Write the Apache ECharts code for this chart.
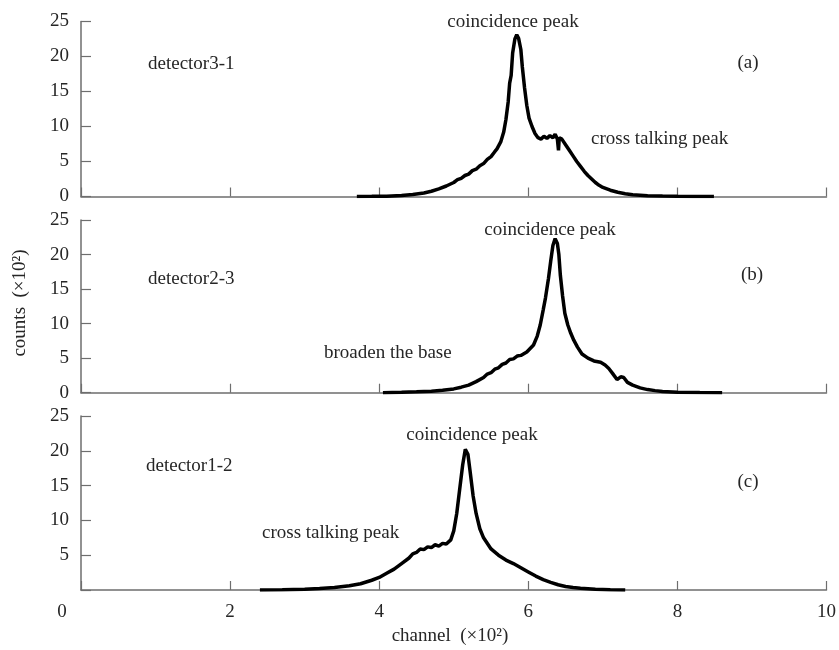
<!DOCTYPE html>
<html><head><meta charset="utf-8">
<script src="https://cdn.jsdelivr.net/npm/echarts@6/dist/echarts.min.js"></script>
<style>html,body{margin:0;padding:0;background:#fff}#c{width:839px;height:650px}</style>
</head><body><div id="c"></div>
<script>
// channel (x10^2), counts (x10^2)
const detector31 = [[3.70,0],[3.9,0.02],[4.1,0.05],[4.3,0.15],[4.45,0.3],[4.6,0.5],[4.7,0.75],[4.8,1.1],[4.9,1.5],[5.0,2.0],[5.05,2.4],[5.1,2.6],[5.15,3.0],[5.2,3.2],[5.25,3.7],[5.3,3.9],[5.35,4.4],[5.4,4.7],[5.45,5.3],[5.5,5.7],[5.55,6.4],[5.58,6.8],[5.63,7.8],[5.67,9.2],[5.70,11],[5.73,13.5],[5.75,16.2],[5.77,17.3],[5.79,20.5],[5.82,22.5],[5.845,23.1],[5.87,22.6],[5.90,21],[5.92,18.5],[5.95,15.5],[5.98,13],[6.01,11.2],[6.05,10],[6.09,9.0],[6.13,8.4],[6.17,8.2],[6.21,8.6],[6.25,8.3],[6.29,8.7],[6.33,8.4],[6.36,8.9],[6.39,8.2],[6.405,6.6],[6.415,8.4],[6.45,8.2],[6.5,7.4],[6.55,6.6],[6.6,5.8],[6.65,5.0],[6.7,4.3],[6.75,3.6],[6.8,3.0],[6.85,2.5],[6.9,2.0],[6.95,1.6],[7.0,1.3],[7.1,0.9],[7.2,0.6],[7.3,0.4],[7.4,0.25],[7.6,0.12],[7.8,0.06],[8.0,0.03],[8.2,0.01],[8.49,0]];
const detector23 = [[4.05,0],[4.3,0.05],[4.5,0.12],[4.7,0.22],[4.85,0.35],[5.0,0.55],[5.1,0.8],[5.2,1.1],[5.3,1.6],[5.4,2.2],[5.45,2.7],[5.5,2.9],[5.55,3.4],[5.6,3.6],[5.65,4.1],[5.7,4.3],[5.75,4.8],[5.8,4.9],[5.85,5.3],[5.9,5.4],[5.98,5.9],[6.07,6.9],[6.12,8.2],[6.16,9.8],[6.2,12],[6.23,13.7],[6.27,16.5],[6.30,19],[6.33,21.3],[6.36,22.3],[6.39,21.6],[6.41,20],[6.43,17],[6.46,14],[6.49,11.5],[6.53,9.8],[6.57,8.6],[6.61,7.6],[6.66,6.6],[6.72,5.6],[6.8,5.0],[6.88,4.6],[6.97,4.4],[7.03,4.0],[7.08,3.5],[7.13,2.8],[7.19,1.9],[7.24,2.3],[7.28,2.2],[7.33,1.5],[7.4,1.1],[7.5,0.7],[7.6,0.45],[7.7,0.3],[7.8,0.18],[8.0,0.08],[8.3,0.03],[8.6,0]];
const detector12 = [[2.4,0],[2.7,0.03],[3.0,0.1],[3.2,0.2],[3.4,0.35],[3.6,0.6],[3.75,0.9],[3.9,1.4],[4.0,1.8],[4.1,2.4],[4.2,3.0],[4.3,3.8],[4.4,4.6],[4.45,5.2],[4.5,5.4],[4.55,5.9],[4.6,5.8],[4.65,6.2],[4.7,6.1],[4.75,6.5],[4.8,6.3],[4.85,6.7],[4.9,6.6],[4.96,7.2],[5.0,8.5],[5.04,11],[5.08,14.5],[5.12,18],[5.155,20.2],[5.19,19.5],[5.22,17],[5.26,13.5],[5.3,11],[5.35,8.8],[5.4,7.5],[5.5,5.9],[5.6,5.0],[5.7,4.3],[5.8,3.8],[5.9,3.2],[6.0,2.6],[6.1,2.0],[6.2,1.5],[6.3,1.1],[6.4,0.75],[6.5,0.5],[6.6,0.35],[6.7,0.25],[6.9,0.12],[7.1,0.05],[7.3,0]];
const xTickLabels = ['0','2','4','6','8','10'];
const yTickLabels = ['0','5','10','15','20','25'];
const panelNames = ['detector3-1','detector2-3','detector1-2'];
const panelTags = ['(a)','(b)','(c)'];

const FONT = '"Liberation Serif", "DejaVu Serif", serif';
const TXT = '#262626';
const AX = '#6e6e6e';
const grids = [
  {left:81, top:21.5, width:745.5, height:175},
  {left:81, top:220, width:745.5, height:172.7},
  {left:81, top:416, width:745.5, height:174}
];
const xAxes = grids.map((g,i)=>({
  type:'value', gridIndex:i, min:0, max:10, interval:2,
  axisLine:{lineStyle:{color:AX,width:1.5}},
  axisTick:{inside:true,length:9,lineStyle:{color:AX,width:1.2}},
  splitLine:{show:false},
  axisLabel:{show:i===2, margin:13, fontFamily:FONT, fontSize:19, color:TXT,
    formatter:v=>{const k=Math.round(v/2); return k===0?'':xTickLabels[k];}}
}));
const yAxes = grids.map((g,i)=>({
  type:'value', gridIndex:i, min:0, max:25, interval:5,
  axisLine:{show:true,lineStyle:{color:AX,width:1.5}},
  axisTick:{show:true,inside:true,length:10,lineStyle:{color:AX,width:1.2}},
  splitLine:{show:false},
  axisLabel:{margin:12, fontFamily:FONT, fontSize:19, color:TXT,
    formatter:v=>{const k=Math.round(v/5); return (i===2&&k===0)?'':yTickLabels[k];}}
}));
const datasets=[detector31,detector23,detector12];
const series = datasets.map((d,i)=>({
  type:'line', xAxisIndex:i, yAxisIndex:i, data:d, showSymbol:false, symbol:'none',
  lineStyle:{color:'#000',width:3.5}, silent:true, animation:false
}));
function txt(x,y,t,align){return {type:'text',x:x,y:y,style:{text:t,fill:TXT,font:'19px '+FONT,textAlign:align||'left',textVerticalAlign:'middle'}};}
const graphic=[
  txt(148,64,panelNames[0]), txt(148,279,panelNames[1]), txt(146,466,panelNames[2]),
  txt(748,63,panelTags[0],'center'), txt(752,275,panelTags[1],'center'), txt(748,482,panelTags[2],'center'),
  txt(513,22,'coincidence peak','center'), txt(550,230,'coincidence peak','center'), txt(472,435,'coincidence peak','center'),
  txt(591,139,'cross talking peak'), txt(324,353,'broaden the base'), txt(262,533,'cross talking peak'),
  txt(62,612,'0','center'),
  txt(450,636,'channel  (×10²)','center'),
  {type:'text', x:20, y:303, rotation:Math.PI/2, style:{text:'counts  (×10²)',fill:TXT,font:'19px '+FONT,textAlign:'center',textVerticalAlign:'middle'}}
];
const chart=echarts.init(document.getElementById('c'),null,{renderer:'canvas'});
chart.setOption({animation:false,grid:grids,xAxis:xAxes,yAxis:yAxes,series:series,graphic:graphic});
</script></body></html>
